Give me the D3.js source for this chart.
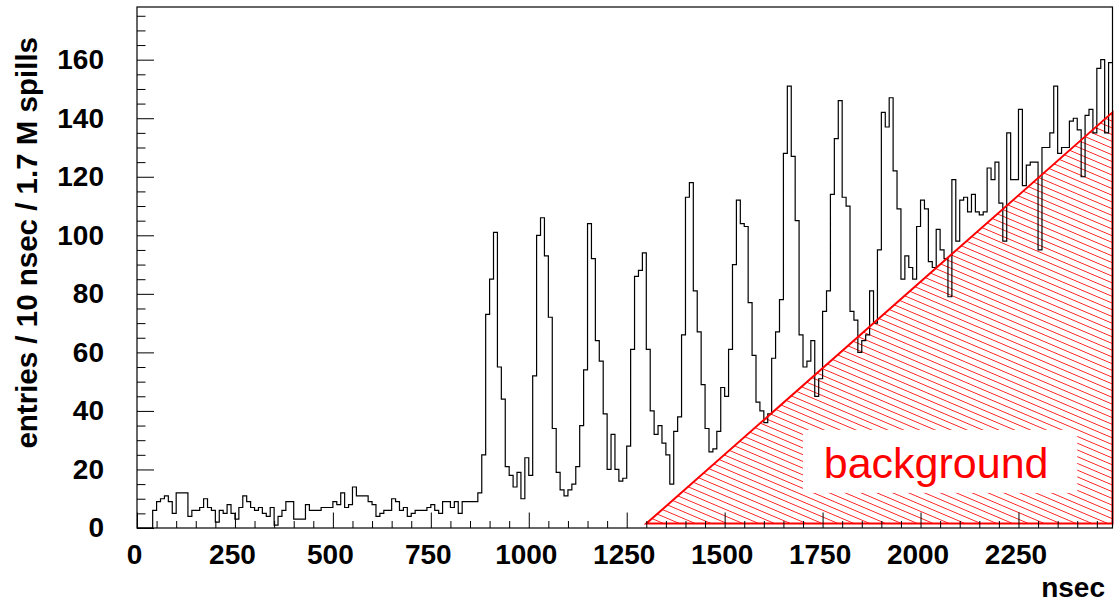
<!DOCTYPE html>
<html>
<head>
<meta charset="utf-8">
<script src="https://cdn.jsdelivr.net/npm/d3@7"></script>
<style>
  body { margin: 0; background: #fff; }
  text { font-family: "Liberation Sans", Arial, Helvetica, sans-serif; }
</style>
</head>
<body>
<div id="my_dataviz"></div>
<script>
// entries per 10 nsec bin, bins start at 0, 10, 20 ...
var binWidth = 10;
var entries0to490 = [
  0, 0, 0, 0, 6, 9, 10, 11, 9, 5,
  12, 12, 12, 4, 6, 6, 7, 10, 7, 6,
  2, 6, 5, 8, 5, 3, 7, 11, 9, 7,
  6, 7, 5, 4, 7, 1, 4, 6, 9, 9,
  3, 3, 3, 8, 6, 6, 6, 7, 7, 7
];
var entries500to990 = [
  9, 8, 12, 7, 8, 14, 11, 11, 11, 9,
  8, 4, 5, 6, 6, 10, 9, 6, 7, 4,
  5, 6, 6, 6, 7, 8, 6, 5, 9, 9,
  7, 9, 5, 9, 9, 9, 9, 12, 25, 73,
  85, 101, 55, 44, 21, 18, 14, 19, 10, 24
];
var entries1000to1490 = [
  18, 52, 100, 106, 93, 72, 34, 19, 13, 11,
  13, 15, 21, 35, 54, 104, 92, 64, 57, 39,
  20, 32, 20, 16, 17, 28, 61, 86, 88, 94,
  61, 40, 32, 35, 29, 25, 15, 33, 38, 66,
  113, 118, 81, 67, 49, 34, 26, 27, 33, 48
];
var entries1500to1990 = [
  45, 61, 90, 112, 104, 103, 77, 59, 43, 40,
  36, 39, 58, 67, 78, 128, 151, 127, 105, 66,
  55, 57, 64, 45, 51, 74, 81, 114, 133, 146,
  113, 110, 74, 71, 60, 64, 66, 81, 70, 95,
  142, 137, 147, 122, 109, 85, 93, 89, 85, 103
];
var entries2000to2480 = [
  112, 109, 91, 89, 102, 95, 92, 79, 119, 98,
  112, 113, 108, 114, 108, 107, 108, 123, 119, 125,
  111, 98, 135, 119, 119, 143, 117, 124, 125, 125,
  95, 130, 130, 135, 151, 128, 130, 130, 139, 140,
  136, 120, 141, 143, 135, 157, 160, 135, 159
];

// linear background estimate (nsec, entries)
var bgNsec = [1300, 2490];
var bgEntries = [1.5, 142];

var xTicks = [0, 250, 500, 750, 1000, 1250, 1500, 1750, 2000, 2250];
var yTicks = [0, 20, 40, 60, 80, 100, 120, 140, 160];

var entries = entries0to490.concat(entries500to990, entries1000to1490,
                                   entries1500to1990, entries2000to2480);

// set the dimensions and margins of the graph
var margin = {top: 7, right: 1.5, bottom: 81, left: 137},
    width = 1114 - margin.left - margin.right,
    height = 609 - margin.top - margin.bottom;

var root = d3.select("#my_dataviz")
  .append("svg")
    .attr("width", 1114)
    .attr("height", 609);

var svg = root.append("g")
    .attr("transform", "translate(" + margin.left + "," + margin.top + ")");

var x = d3.scaleLinear().domain([0, 2490]).range([0, width]);
var y = d3.scaleLinear().domain([0, 178]).range([height, 0]);

// hatch pattern for the background
root.append("defs").append("pattern")
    .attr("id", "hatch")
    .attr("patternUnits", "userSpaceOnUse")
    .attr("width", 12)
    .attr("height", 6.2)
    .attr("patternTransform", "rotate(23)")
  .append("line")
    .attr("x1", 0).attr("x2", 12)
    .attr("y1", 3.1).attr("y2", 3.1)
    .attr("stroke", "#ff2020")
    .attr("stroke-width", 0.9);

var bgPoly = [
  [bgNsec[0], bgEntries[0]],
  [bgNsec[1], bgEntries[1]],
  [bgNsec[1], bgEntries[0]]
];
var polyLine = d3.line()
  .x(function(d) { return x(d[0]); })
  .y(function(d) { return y(d[1]); });

svg.append("path")
  .attr("d", polyLine(bgPoly) + "Z")
  .attr("fill", "url(#hatch)")
  .attr("stroke", "none");

// white box with label
var boxX0 = x(1700), boxX1 = x(2400), boxY0 = y(33.5), boxY1 = y(12);
svg.append("rect")
  .attr("x", boxX0).attr("y", boxY0)
  .attr("width", boxX1 - boxX0).attr("height", boxY1 - boxY0)
  .attr("fill", "#fff");
svg.append("text")
  .attr("x", (boxX0 + boxX1) / 2 - 4)
  .attr("y", y(17.1))
  .attr("text-anchor", "middle")
  .attr("fill", "#ff0000")
  .style("font-size", "43px")
  .text("background");

// histogram outline
var steps = entries.map(function(v, i) { return [i * binWidth, v]; });
steps.push([entries.length * binWidth, entries[entries.length - 1]]);
svg.append("path")
  .datum(steps)
  .attr("fill", "none")
  .attr("stroke", "#000")
  .attr("stroke-width", 1.2)
  .attr("d", d3.line()
    .x(function(d) { return x(d[0]); })
    .y(function(d) { return y(d[1]); })
    .curve(d3.curveStepAfter));

// background outline
svg.append("path")
  .attr("d", polyLine(bgPoly) + "Z")
  .attr("fill", "none")
  .attr("stroke", "#ff0000")
  .attr("stroke-width", 2);

// axes: minor ticks
var xMinor = d3.range(0, 2490, 50).filter(function(v) { return v % 250 != 0; });
var yMinor = d3.range(0, 178, 5).filter(function(v) { return v % 20 != 0; });

svg.append("g")
  .attr("transform", "translate(0," + height + ")")
  .call(d3.axisBottom(x).tickValues(xMinor).tickSize(-7).tickFormat(""))
  .call(function(g) { g.select(".domain").remove(); });
svg.append("g")
  .call(d3.axisLeft(y).tickValues(yMinor).tickSize(-8.5).tickFormat(""))
  .call(function(g) { g.select(".domain").remove(); });

// major ticks with labels
var xAxis = svg.append("g")
  .attr("transform", "translate(0," + height + ")")
  .call(d3.axisBottom(x).tickValues(xTicks).tickSize(-15.5).tickPadding(16)
    .tickFormat(d3.format("d")));
xAxis.select(".domain").remove();
xAxis.selectAll("text").attr("dx", -3);

var yAxis = svg.append("g")
  .call(d3.axisLeft(y).tickValues(yTicks).tickSize(-17).tickPadding(33)
    .tickFormat(d3.format("d")));
yAxis.select(".domain").remove();

root.selectAll(".tick text")
  .attr("fill", "#000")
  .style("font-size", "28px")
  .style("font-weight", "bold")
  .style("font-family", "'Liberation Sans', Arial, sans-serif");
root.selectAll(".tick line").attr("stroke", "#000");

// frame
svg.append("rect")
  .attr("width", width)
  .attr("height", height)
  .attr("fill", "none")
  .attr("stroke", "#000")
  .attr("stroke-width", 1.2);

// axis titles
root.append("text")
  .attr("text-anchor", "end")
  .attr("x", 1105)
  .attr("y", 597)
  .style("font-size", "28px")
  .style("font-weight", "bold")
  .text("nsec");

root.append("text")
  .attr("text-anchor", "end")
  .attr("transform", "translate(37,37) rotate(-90)")
  .style("font-size", "29.5px")
  .style("font-weight", "bold")
  .text("entries / 10 nsec / 1.7 M spills");
</script>
</body>
</html>
